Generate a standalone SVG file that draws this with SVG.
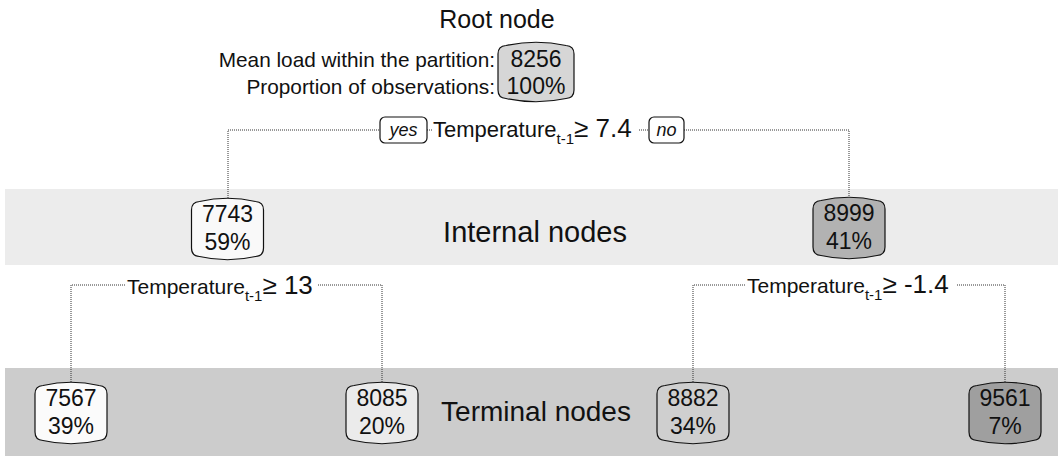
<svg xmlns="http://www.w3.org/2000/svg" width="1063" height="458" viewBox="0 0 1063 458">
<style>
  text { font-family: "Liberation Sans", Arial, sans-serif; fill: #111; }
  .num { font-size: 23px; text-anchor: middle; }
  .title { font-size: 28px; text-anchor: middle; }
  .info { font-size: 20.8px; text-anchor: end; }
  .cond { font-size: 21px; }
  .sub { font-size: 15px; }
  .val { font-size: 26px; }
  .node { stroke: #111; stroke-width: 1.2; }
  .dot { stroke: #333; stroke-width: 1; stroke-dasharray: 1 1; fill: none; }
  .tag { fill: #fff; stroke: #111; stroke-width: 1.2; }
  .tagt { font-size: 18px; font-style: italic; text-anchor: middle; }
</style>
<defs>
  <path id="barrel" d="M0 12 Q0 4 8 3.5 Q36 -3 64 3.5 Q72 4 72 12 L72 50 Q72 58 64 58.5 Q36 65 8 58.5 Q0 58 0 50 Z"/>
</defs>
<rect x="5" y="189" width="1053" height="76" fill="#ececec"/>
<rect x="5" y="368" width="1053" height="88" fill="#cccccc"/>
<text class="title" x="497" y="28" style="font-size:25px">Root node</text>
<text class="title" x="535" y="242" style="font-size:29px">Internal nodes</text>
<text class="title" x="536" y="421">Terminal nodes</text>
<text class="info" x="495" y="67">Mean load within the partition:</text>
<text class="info" x="495" y="94">Proportion of observations:</text>
<g id="connectors">
  <path class="dot" d="M228 198 V130 H380 M427 130 H432 M639 130 H649 M684 130 H849 V197"/>
  <path class="dot" d="M71 382 V285 H126 M318 285 H382 V382"/>
  <path class="dot" d="M693 382 V285 H746 M957 285 H1005 V382"/>
  <rect class="tag" x="380" y="117" width="47" height="26" rx="5"/>
  <text class="tagt" x="403.5" y="136">yes</text>
  <rect class="tag" x="649" y="117" width="35" height="26" rx="5"/>
  <text class="tagt" x="666.5" y="136">no</text>
  <text class="cond" x="433" y="137" style="font-size:22px">Temperature<tspan class="sub" dy="7">t-1</tspan><tspan class="val" dy="-7">≥ 7.4</tspan></text>
  <text class="cond" x="127" y="294">Temperature<tspan class="sub" dy="7">t-1</tspan><tspan class="val" dy="-7">≥ 13</tspan></text>
  <text class="cond" x="747" y="293">Temperature<tspan class="sub" dy="7">t-1</tspan><tspan class="val" dy="-7">≥ -1.4</tspan></text>
</g>
<g id="root">
  <path class="node" fill="#d6d6d6" d="M498 54 Q498 46 506 45.5 Q536 39 566 45.5 Q574 46 574 54 L574 90 Q574 98 566 98.5 Q536 105 506 98.5 Q498 98 498 90 Z"/>
  <text class="num" x="536" y="67">8256</text>
  <text class="num" x="536" y="94">100%</text>
</g>
<g id="n7743">
  <use href="#barrel" class="node" fill="#f9f9f9" transform="translate(191.5,198)"/>
  <text class="num" x="227.5" y="222">7743</text>
  <text class="num" x="227.5" y="250">59%</text>
</g>
<g id="n8999">
  <use href="#barrel" class="node" fill="#b2b2b2" transform="translate(813,197)"/>
  <text class="num" x="849" y="221">8999</text>
  <text class="num" x="849" y="249">41%</text>
</g>
<g id="n7567">
  <use href="#barrel" class="node" fill="#fbfbfb" transform="translate(35,382)"/>
  <text class="num" x="71" y="406">7567</text>
  <text class="num" x="71" y="434">39%</text>
</g>
<g id="n8085">
  <use href="#barrel" class="node" fill="#ebebeb" transform="translate(346,382)"/>
  <text class="num" x="382" y="406">8085</text>
  <text class="num" x="382" y="434">20%</text>
</g>
<g id="n8882">
  <use href="#barrel" class="node" fill="#cfcfcf" transform="translate(657,382)"/>
  <text class="num" x="693" y="406">8882</text>
  <text class="num" x="693" y="434">34%</text>
</g>
<g id="n9561">
  <use href="#barrel" class="node" fill="#9f9f9f" transform="translate(969,382)"/>
  <text class="num" x="1005" y="406">9561</text>
  <text class="num" x="1005" y="434">7%</text>
</g>
</svg>
